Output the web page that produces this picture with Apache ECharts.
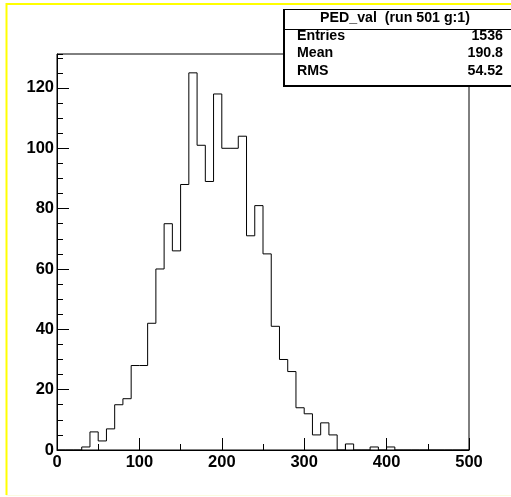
<!DOCTYPE html>
<html>
<head>
<meta charset="utf-8">
<script src="https://cdn.jsdelivr.net/npm/echarts@6/dist/echarts.min.js"></script>
<style>
html,body{margin:0;padding:0;background:#fff;}
#chart{width:511px;height:497px;}
</style>
</head>
<body>
<div id="chart"></div>
<script>
// Histogram PED_val: 50 bins of width 10 from 0 to 500
const binLowEdges = [0,10,20,30,40,50,60,70,80,90,100,110,120,130,140,150,160,170,180,190,
  200,210,220,230,240,250,260,270,280,290,300,310,320,330,340,350,360,370,380,390,
  400,410,420,430,440,450,460,470,480,490];
const binUpEdge = 500;
const binCounts = [0,0,0,1,6,3,7,15,17,28,28,42,60,75,66,88,125,101,89,118,
  100,100,104,71,81,65,41,30,26,14,12,5,9,5,0,2,0,0,1,0,
  1,0,0,0,0,0,0,0,0,0];
const xTickLabels = ['0','100','200','300','400','500'];
const yTickLabels = ['0','20','40','60','80','100','120'];
const statsTitle = 'PED_val  (run 501 g:1)';
const statsNames = ['Entries','Mean','RMS'];
const statsValues = ['1536','190.8','54.52'];

const yMax = 125 * 1.05;

const histData = binLowEdges.map((x, i) => [x, binCounts[i]]);
histData.push([binUpEdge, 0]);

const chart = echarts.init(document.getElementById('chart'), null, {renderer: 'canvas'});
const labelFont = {color: '#000', fontFamily: 'Liberation Sans, Arial, sans-serif', fontWeight: 'bold', fontSize: 16.5};
const statFont = 'bold 14.2px "Liberation Sans", Arial, sans-serif';

const axisLineStyle = {color: '#000', width: 1};

const option = {
  animation: false,
  backgroundColor: '#fff',
  grid: {left: 57, top: 54, right: 42, bottom: 47, show: true, borderColor: '#000', borderWidth: 1, backgroundColor: 'transparent'},
  xAxis: [
    {type: 'value', min: 0, max: 500, interval: 100,
     axisLine: {lineStyle: axisLineStyle},
     axisTick: {inside: true, length: 12, lineStyle: axisLineStyle},
     splitLine: {show: false},
     axisLabel: Object.assign({margin: 4, formatter: v => xTickLabels[Math.round(v / 100)] || ''}, labelFont)},
    {type: 'value', min: 0, max: 500, interval: 50, position: 'bottom', offset: 0,
     axisLine: {show: false},
     axisTick: {inside: true, length: 6, lineStyle: axisLineStyle},
     splitLine: {show: false}, axisLabel: {show: false}}
  ],
  yAxis: [
    {type: 'value', min: 0, max: yMax, interval: 20, position: 'left',
     axisLine: {show: true, lineStyle: axisLineStyle},
     axisTick: {show: true, inside: true, length: 12, lineStyle: axisLineStyle},
     splitLine: {show: false},
     axisLabel: Object.assign({margin: 3, showMaxLabel: false, padding: [0, 0, 4, 0],
       formatter: v => (Math.abs(v / 20 - Math.round(v / 20)) < 1e-6 ? (yTickLabels[Math.round(v / 20)] || '') : '')}, labelFont)},
    {type: 'value', min: 0, max: yMax, interval: 5, position: 'left', offset: 0,
     axisLine: {show: false},
     axisTick: {show: true, inside: true, length: 6, lineStyle: axisLineStyle},
     splitLine: {show: false}, axisLabel: {show: false}}
  ],
  series: [{
    type: 'line', step: 'end', xAxisIndex: 0, yAxisIndex: 0,
    data: histData, symbol: 'none', showSymbol: false,
    lineStyle: {color: '#000', width: 1}, z: 5, silent: true
  }],
  graphic: [
    // canvas frame (yellow)
    {type: 'line', shape: {x1: 6, y1: 4, x2: 511, y2: 4}, style: {stroke: '#ffff00', lineWidth: 2}, z: 100},
    {type: 'line', shape: {x1: 6.5, y1: 3, x2: 6.5, y2: 495}, style: {stroke: '#ffff00', lineWidth: 2}, z: 100},
    {type: 'line', shape: {x1: 6, y1: 495.5, x2: 511, y2: 495.5}, style: {stroke: '#fbfbe0', lineWidth: 1}, z: 100},
    // stats box
    {type: 'rect', shape: {x: 283, y: 9, width: 240, height: 78}, style: {fill: '#fff', stroke: null}, z: 100},
    {type: 'line', shape: {x1: 284, y1: 9.5, x2: 511, y2: 9.5}, style: {stroke: '#000', lineWidth: 1}, z: 101},
    {type: 'line', shape: {x1: 284, y1: 9, x2: 284, y2: 87}, style: {stroke: '#000', lineWidth: 2}, z: 101},
    {type: 'line', shape: {x1: 283, y1: 86, x2: 511, y2: 86}, style: {stroke: '#000', lineWidth: 2}, z: 101},
    {type: 'line', shape: {x1: 284, y1: 29.5, x2: 511, y2: 29.5}, style: {stroke: '#000', lineWidth: 1}, z: 101},
    {type: 'text', x: 395, y: 18, style: {text: statsTitle, font: statFont, fill: '#000', textAlign: 'center', textVerticalAlign: 'middle'}, z: 102},
    {type: 'text', x: 297, y: 36, style: {text: statsNames[0], font: statFont, fill: '#000', textAlign: 'left', textVerticalAlign: 'middle'}, z: 102},
    {type: 'text', x: 297, y: 53.5, style: {text: statsNames[1], font: statFont, fill: '#000', textAlign: 'left', textVerticalAlign: 'middle'}, z: 102},
    {type: 'text', x: 297, y: 71, style: {text: statsNames[2], font: statFont, fill: '#000', textAlign: 'left', textVerticalAlign: 'middle'}, z: 102},
    {type: 'text', x: 503, y: 36, style: {text: statsValues[0], font: statFont, fill: '#000', textAlign: 'right', textVerticalAlign: 'middle'}, z: 102},
    {type: 'text', x: 503, y: 53.5, style: {text: statsValues[1], font: statFont, fill: '#000', textAlign: 'right', textVerticalAlign: 'middle'}, z: 102},
    {type: 'text', x: 503, y: 71, style: {text: statsValues[2], font: statFont, fill: '#000', textAlign: 'right', textVerticalAlign: 'middle'}, z: 102}
  ]
};
chart.setOption(option);
</script>
</body>
</html>
